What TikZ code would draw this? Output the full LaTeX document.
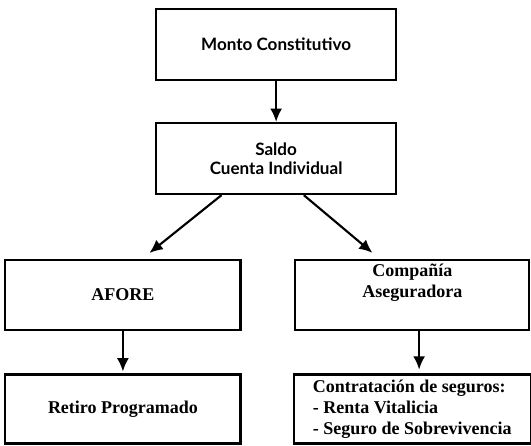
\documentclass[tikz,border=0pt]{standalone}
\usepackage{fontspec}
\setmainfont{Liberation Serif}
\newfontfamily\gillfont{Lato}
\usetikzlibrary{arrows.meta}

\begin{document}
\begin{tikzpicture}[
  sumbox/.style={rectangle, draw, line width=1.7pt, minimum width=6.33cm,
    minimum height=1.87cm, align=center,
    font=\gillfont\bfseries\fontsize{12.8}{14.5}\selectfont},
  optbox/.style={rectangle, draw, line width=1.7pt, minimum width=6.2cm,
    minimum height=1.85cm, align=center,
    font=\bfseries\fontsize{13.5}{16}\selectfont},
  arr/.style={-{Latex[length=10pt,width=9pt]}, line width=1.6pt},
]
\useasboundingbox (0,0) rectangle (14,11.735);

% Horizontal positions
\def\xmid{7.28}
\def\xleft{3.24}
\def\xright{10.87}

% Vertical positions
\def\ymonto{10.56}
\def\ysaldo{7.555}
\def\yinst{3.96}
\def\yfin{0.95}

% ============================================================
% Top: amount and account
% ============================================================
\node[sumbox] (monto) at (\xmid, \ymonto) {Monto Constitutivo};
\node[sumbox] (saldo) at (\xmid, \ysaldo) {Saldo\\Cuenta Individual};

\draw[arr] (monto) -- (saldo);

% ============================================================
% Left branch: AFORE
% ============================================================
\node[optbox] (afore) at (\xleft, \yinst) {AFORE};
\node[optbox, minimum height=1.82cm] (retiro) at (\xleft, \yfin) {Retiro Programado};

\draw[arr] ([xshift=-1.44cm]saldo.south) -- ([xshift=0.7cm, yshift=0.15cm]afore.north);
\draw[arr, shorten >=0.05cm] (afore) -- (retiro);

% ============================================================
% Right branch: insurance company
% ============================================================
\node[optbox, minimum width=6.17cm] (compania) at (\xright, \yinst)
  {Compañía\\Aseguradora\\\strut};
\node[optbox, align=left, minimum width=6.25cm, minimum height=1.82cm] (contrata)
  at (\xright, \yfin)
  {Contratación de seguros:\\- Renta Vitalicia\\- Seguro de Sobrevivencia};

\draw[arr] ([xshift=0.73cm]saldo.south) -- ([xshift=-1.05cm, yshift=0.15cm]compania.north);
\draw[arr] ([xshift=0.18cm]compania.south) -- ([xshift=0.18cm, yshift=0.1cm]contrata.north);

\end{tikzpicture}
\end{document}
